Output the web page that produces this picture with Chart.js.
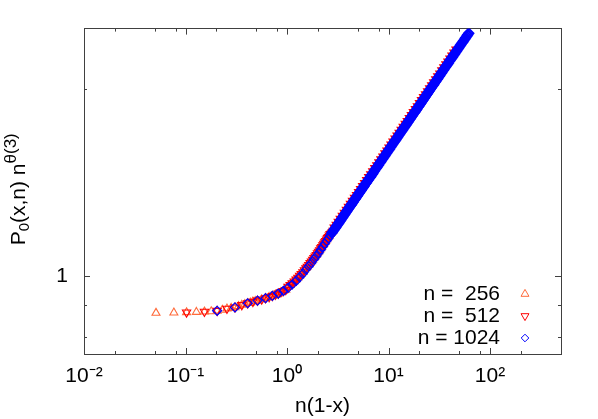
<!DOCTYPE html>
<html>
<head>
<meta charset="utf-8">
<script src="https://cdn.jsdelivr.net/npm/chart.js@4/dist/chart.umd.min.js"></script>
<style>
html,body{margin:0;padding:0;background:#fff;}
#wrap{width:598px;height:419px;position:relative;}
</style>
</head>
<body>
<div id="wrap"><canvas id="c" width="598" height="419"></canvas></div>
<script>
// ---- data ----
const seriesLabels = ['n =  256', 'n =  512', 'n = 1024'];

const x256 = [0.0512,0.0768,0.1024,0.128,0.1536,0.1792,0.2048,0.2304,0.256,0.2816,0.3072,0.3328,0.3584,0.384,0.4096,0.4352,0.4608,0.4864,0.512,0.5632,0.6144,0.6656,0.7168,0.768,0.8192,0.8704,0.9216,0.9728,
  1.024,1.075,1.126,1.178,1.229,1.28,1.331,1.382,1.434,1.485,1.536,1.587,1.638,1.69,1.741,1.792,1.843,1.894,1.946,1.997,2.048,2.099,2.15,2.202,2.253,2.304,2.355,2.406,2.458,2.509,2.56,2.611,2.662,2.714,2.765,2.816,
  3.020,3.311,3.631,3.981,4.365,4.786,5.248,5.754,6.310,6.918,7.586,8.318,9.120,10.00,10.96,12.02,13.18,14.45,15.85,17.38,19.05,20.89,22.91];
const y256 = [0.873,0.874,0.875,0.876,0.877,0.878,0.880,0.883,0.887,0.889,0.891,0.895,0.899,0.902,0.905,0.907,0.910,0.912,0.914,0.918,0.922,0.926,0.930,0.934,0.938,0.943,0.947,0.951,
  0.962,0.968,0.975,0.981,0.988,0.995,1.002,1.009,1.015,1.023,1.030,1.036,1.043,1.050,1.056,1.063,1.070,1.076,1.082,1.089,1.095,1.101,1.109,1.115,1.122,1.128,1.134,1.140,1.146,1.152,1.157,1.163,1.169,1.174,1.179,1.185,
  1.205,1.232,1.260,1.288,1.316,1.345,1.375,1.405,1.437,1.468,1.501,1.534,1.568,1.604,1.639,1.675,1.712,1.749,1.789,1.828,1.868,1.910,1.953];

const x512 = [0.1024,0.1536,0.2048,0.256,0.3072,0.3584,0.4096,0.4608,0.512,0.5632,0.6144,0.6656,0.7168,0.768,0.8192,0.8704,0.9216,0.9728,
  1.024,1.075,1.126,1.178,1.229,1.28,1.331,1.382,1.434,1.485,1.536,1.587,1.638,1.69,1.741,1.792,1.843,1.894,1.946,1.997,2.048,2.099,2.15,2.202,2.253,2.304,2.355,2.406,2.458,2.509,2.56,2.611,2.662,2.714,2.765,2.816,
  2.884,3.020,3.162,3.311,3.467,3.631,3.802,3.981,4.169,4.365,4.571,4.786,5.012,5.248,5.495,5.754,6.026,6.310,6.607,6.918,7.244,7.586,7.943,8.318,8.710,9.120,9.550,10.00,10.47,10.96,11.48,12.02,12.59,13.18,13.80,14.45,15.14,15.85,16.60,17.38,18.20,19.05,19.95,20.89,21.88,22.91,23.99,25.12,26.30,27.54,28.84,30.20,31.62,33.11,34.67,36.31,38.02,39.81,41.69,43.65,45.71];
const y512 = [0.875,0.877,0.880,0.887,0.891,0.899,0.905,0.910,0.914,0.918,0.922,0.926,0.930,0.934,0.938,0.943,0.947,0.951,
  0.962,0.968,0.975,0.981,0.988,0.995,1.002,1.009,1.015,1.023,1.030,1.036,1.043,1.050,1.056,1.063,1.070,1.076,1.082,1.089,1.095,1.101,1.109,1.115,1.122,1.128,1.134,1.140,1.146,1.152,1.157,1.163,1.169,1.174,1.179,1.185,
  1.199,1.212,1.225,1.239,1.253,1.267,1.281,1.295,1.309,1.324,1.339,1.353,1.368,1.383,1.398,1.414,1.429,1.445,1.461,1.477,1.494,1.510,1.526,1.543,1.560,1.578,1.595,1.613,1.630,1.648,1.667,1.685,1.703,1.722,1.741,1.760,1.779,1.799,1.818,1.839,1.859,1.879,1.900,1.922,1.943,1.964,1.986,2.008,2.030,2.052,2.076,2.098,2.121,2.145,2.169,2.193,2.216,2.242,2.266,2.291,2.317];

const x1024 = [0.2048,0.3072,0.4096,0.512,0.6144,0.7168,0.8192,0.9216,
  1.024,1.126,1.229,1.331,1.434,1.536,1.638,1.741,1.843,1.946,2.048,2.15,2.253,2.355,2.458,2.56,2.662,2.765,
  2.818,2.884,2.951,3.020,3.090,3.162,3.236,3.311,3.388,3.467,
  3.548,3.631,3.715,3.802,3.890,3.981,4.074,4.169,4.266,4.365,
  4.467,4.571,4.677,4.786,4.898,5.012,5.129,5.248,5.370,5.495,
  5.623,5.754,5.888,6.026,6.166,6.310,6.457,6.607,6.761,6.918,
  7.079,7.244,7.413,7.586,7.762,7.943,8.128,8.318,8.511,8.710,
  8.913,9.120,9.333,9.550,9.772,10.00,10.23,10.47,10.72,10.96,
  11.22,11.48,11.75,12.02,12.30,12.59,12.88,13.18,13.49,13.80,
  14.13,14.45,14.79,15.14,15.49,15.85,16.22,16.60,16.98,17.38,
  17.78,18.20,18.62,19.05,19.50,19.95,20.42,20.89,21.38,21.88,
  22.39,22.91,23.44,23.99,24.55,25.12,25.70,26.30,26.92,27.54,
  28.18,28.84,29.51,30.20,30.90,31.62,32.36,33.11,33.88,34.67,
  35.48,36.31,37.15,38.02,38.90,39.81,40.74,41.69,42.66,43.65,
  44.67,45.71,46.77,47.86,48.98,50.12,51.29,52.48,53.70,54.95,
  56.23,57.54,58.88,60.26,61.66];
const y1024 = [0.880,0.891,0.905,0.914,0.922,0.930,0.938,0.947,
  0.958,0.970,0.983,0.997,1.010,1.025,1.038,1.051,1.065,1.077,1.090,1.103,1.116,1.128,1.140,1.151,1.163,1.173,
  1.179,1.185,1.192,1.198,1.205,1.211,1.218,1.225,1.231,1.238,
  1.245,1.252,1.259,1.266,1.273,1.280,1.287,1.294,1.301,1.308,
  1.315,1.323,1.330,1.337,1.345,1.352,1.360,1.367,1.374,1.382,
  1.389,1.397,1.405,1.412,1.420,1.428,1.436,1.443,1.451,1.459,
  1.467,1.476,1.484,1.492,1.500,1.508,1.517,1.525,1.533,1.542,
  1.550,1.559,1.567,1.576,1.585,1.594,1.602,1.611,1.620,1.629,
  1.638,1.647,1.656,1.665,1.674,1.683,1.692,1.702,1.711,1.720,
  1.730,1.739,1.749,1.758,1.768,1.778,1.788,1.797,1.807,1.817,
  1.827,1.837,1.847,1.857,1.868,1.878,1.888,1.899,1.909,1.920,
  1.930,1.941,1.952,1.962,1.973,1.984,1.995,2.006,2.017,2.028,
  2.039,2.051,2.062,2.073,2.085,2.096,2.108,2.120,2.131,2.143,
  2.155,2.167,2.178,2.190,2.202,2.215,2.227,2.239,2.251,2.264,
  2.276,2.289,2.301,2.314,2.326,2.339,2.352,2.365,2.377,2.390,
  2.404,2.417,2.430,2.443,2.457];

const xRange = [0.01, 500];
const yRange = [0.75, 2.5];
const xMajorTicks = [0.01, 0.1, 1, 10, 100];
const xTickLabels = ['10\u207B\u00B2', '10\u207B\u00B9', '10\u2070', '10\u00B9', '10\u00B2'];
const xMinorTicks = [0.02,0.05,0.08,0.2,0.5,0.8,2,5,8,20,50,80,200];
const yMajorTicks = [1];
const yTickLabels = ['1'];
const yMinorTicks = [0.8, 0.9, 2];
const xTitle = 'n(1-x)';
const yTitleParts = ['P', '0', '(x,n) n', '\u03B8(3)'];

// ---- helpers ----
function pts(xs, ys) { return xs.map((x, i) => ({x: x, y: ys[i]})); }
const FONT = '"Liberation Sans", Arial, Helvetica, sans-serif';
const AXIS_COLOR = '#404040';

function drawMarker(ctx, style, rotDeg, x, y, r) {
  const rad = rotDeg * Math.PI / 180;
  ctx.beginPath();
  if (style === 'triangle') {
    for (let k = 0; k < 3; k++) {
      const a = rad + k * 2 * Math.PI / 3;
      const px = x + Math.sin(a) * r, py = y - Math.cos(a) * r;
      if (k === 0) ctx.moveTo(px, py); else ctx.lineTo(px, py);
    }
  } else {
    ctx.moveTo(x - r, y); ctx.lineTo(x, y - r); ctx.lineTo(x + r, y); ctx.lineTo(x, y + r);
  }
  ctx.closePath();
  ctx.stroke();
}

const inwardTicks = {
  id: 'inwardTicks',
  afterDraw(chart) {
    const {ctx, chartArea: a, scales} = chart;
    const xs = scales.x, ys = scales.y;
    ctx.save();
    ctx.strokeStyle = AXIS_COLOR;
    ctx.lineWidth = 1;
    ctx.beginPath();
    const vx = (vals, len) => vals.forEach(v => {
      const p = Math.round(xs.getPixelForValue(v)) + 0.5;
      ctx.moveTo(p, a.bottom); ctx.lineTo(p, a.bottom - len);
      ctx.moveTo(p, a.top); ctx.lineTo(p, a.top + len);
    });
    const vy = (vals, len) => vals.forEach(v => {
      const p = Math.round(ys.getPixelForValue(v)) + 0.5;
      ctx.moveTo(a.left, p); ctx.lineTo(a.left + len, p);
      ctx.moveTo(a.right, p); ctx.lineTo(a.right - len, p);
    });
    vx(xMajorTicks, 6); vx(xMinorTicks, 3);
    vy(yMajorTicks, 6); vy(yMinorTicks, 3);
    ctx.stroke();
    ctx.restore();
  }
};

const yTitlePlugin = {
  id: 'yTitle',
  afterDraw(chart) {
    const {ctx, chartArea: a} = chart;
    const styles = [{size: 21, dy: 0}, {size: 15, dy: 4}, {size: 21, dy: 0}, {size: 17, dy: -9}];
    ctx.save();
    let total = 0;
    const widths = yTitleParts.map((t, i) => { ctx.font = styles[i].size + 'px ' + FONT; const w = ctx.measureText(t).width; total += w; return w; });
    ctx.translate(25, (a.top + a.bottom) / 2 - 2);
    ctx.rotate(-Math.PI / 2);
    ctx.fillStyle = '#000';
    ctx.textBaseline = 'alphabetic';
    ctx.textAlign = 'left';
    let cx = -total / 2;
    yTitleParts.forEach((t, i) => {
      ctx.font = styles[i].size + 'px ' + FONT;
      ctx.fillText(t, cx, styles[i].dy);
      cx += widths[i];
    });
    ctx.restore();
  }
};

const legendPlugin = {
  id: 'gpLegend',
  afterDraw(chart) {
    const {ctx, chartArea: a} = chart;
    ctx.save();
    ctx.font = '21px ' + FONT;
    ctx.textAlign = 'right';
    ctx.textBaseline = 'middle';
    chart.data.datasets.forEach((ds, i) => {
      const y = a.bottom - 60 + i * 22;
      ctx.fillStyle = '#000';
      ctx.fillText(ds.label, a.right - 61, y);
      ctx.strokeStyle = ds.borderColor;
      ctx.lineWidth = 1;
      drawMarker(ctx, ds.pointStyle, ds.pointRotation || 0, a.right - 36, y, ds.legendRadius);
    });
    ctx.restore();
  }
};

// thinner/thicker outlines where the markers overlap into a continuous band
const dense = (normal, inBand) => (c) => (c.raw && c.raw.x > 2.7) ? inBand : normal;
const common = {showLine: false, backgroundColor: 'rgba(0,0,0,0)'};

new Chart(document.getElementById('c'), {
  type: 'scatter',
  data: {
    datasets: [
      Object.assign({label: seriesLabels[0], data: pts(x256, y256), borderColor: '#ff6a3a', pointStyle: 'triangle', pointRotation: 0,
                     pointRadius: 4.6, pointBorderWidth: 1.1, legendRadius: 4.6, order: 3}, common),
      Object.assign({label: seriesLabels[1], data: pts(x512, y512), borderColor: '#ff0000', pointStyle: 'triangle', pointRotation: 180,
                     pointRadius: dense(4.8, 4.0), pointBorderWidth: dense(1.1, 1.3), legendRadius: 4.6, order: 2}, common),
      Object.assign({label: seriesLabels[2], data: pts(x1024, y1024), borderColor: '#0000ff', pointStyle: 'rectRot', pointRotation: 0,
                     pointRadius: 4.5, pointBorderWidth: dense(1.2, 2.2), legendRadius: 3.8, order: 1}, common)
    ]
  },
  options: {
    responsive: false,
    animation: false,
    devicePixelRatio: 1,
    layout: {padding: 0},
    plugins: {legend: {display: false}, tooltip: {enabled: false}},
    scales: {
      x: {
        type: 'logarithmic', position: 'bottom', min: xRange[0], max: xRange[1],
        afterBuildTicks: s => { s.ticks = xMajorTicks.map(v => ({value: v, major: true})); },
        afterFit: s => { s.height = 65; },
        ticks: {autoSkip: false, maxRotation: 0, minRotation: 0, padding: 10, color: '#000',
                font: {family: FONT, size: 21},
                callback: (v, i) => xTickLabels[i]},
        grid: {display: false, drawTicks: false},
        border: {display: true, color: AXIS_COLOR, width: 1},
        title: {display: true, text: xTitle, color: '#000', font: {family: FONT, size: 21}, padding: {top: 0, bottom: 0}}
      },
      x2: {
        type: 'logarithmic', position: 'top', min: xRange[0], max: xRange[1],
        afterFit: s => { s.height = 26; },
        ticks: {display: false}, grid: {display: false, drawTicks: false},
        border: {display: true, color: AXIS_COLOR, width: 1}
      },
      y: {
        type: 'logarithmic', position: 'left', min: yRange[0], max: yRange[1],
        afterBuildTicks: s => { s.ticks = yMajorTicks.map(v => ({value: v, major: true})); },
        afterFit: s => { s.width = 84; },
        ticks: {autoSkip: false, padding: 16, color: '#000', font: {family: FONT, size: 21},
                callback: (v, i) => yTickLabels[i]},
        grid: {display: false, drawTicks: false},
        border: {display: true, color: AXIS_COLOR, width: 1}
      },
      y2: {
        type: 'logarithmic', position: 'right', min: yRange[0], max: yRange[1],
        afterFit: s => { s.width = 37; },
        ticks: {display: false}, grid: {display: false, drawTicks: false},
        border: {display: true, color: AXIS_COLOR, width: 1}
      }
    }
  },
  plugins: [inwardTicks, yTitlePlugin, legendPlugin]
});
</script>
</body>
</html>
